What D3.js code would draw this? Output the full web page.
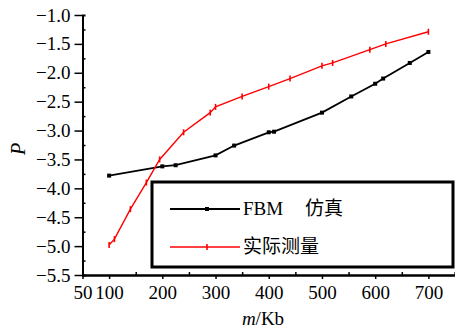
<!DOCTYPE html>
<html><head><meta charset="utf-8">
<script src="https://cdn.jsdelivr.net/npm/d3@7"></script>
<style>body{margin:0;background:#fff}</style>
</head><body>
<svg id="c" width="455" height="329"></svg>
<script>
const xFBM = [100, 200, 225, 300, 335, 400, 410, 500, 555, 600, 615, 665, 700];
const yFBM = [-3.78, -3.62, -3.60, -3.43, -3.26, -3.03, -3.02, -2.69, -2.41, -2.19, -2.10, -1.83, -1.64];
const xReal = [100, 110, 140, 170, 195, 240, 290, 300, 350, 400, 440, 500, 520, 590, 620, 700];
const yReal = [-4.98, -4.88, -4.36, -3.90, -3.50, -3.03, -2.69, -2.59, -2.41, -2.24, -2.10, -1.88, -1.83, -1.60, -1.50, -1.29];
const xTicks = [50, 100, 200, 300, 400, 500, 600, 700];
const xMinor = [150, 250, 350, 450, 550, 650, 750];
const yTicks = [-5.5, -5.0, -4.5, -4.0, -3.5, -3.0, -2.5, -2.0, -1.5, -1.0];
const yMinor = [-5.25, -4.75, -4.25, -3.75, -3.25, -2.75, -2.25, -1.75, -1.25];
const legendNames = [["FBM", "\u4eff\u771f"], ["\u5b9e\u9645\u6d4b\u91cf"]];
const colors = ["#000", "#ff0000"];

const svg = d3.select("#c");
const x = d3.scaleLinear().domain([50, 750]).range([82.5, 455]);
const y = d3.scaleLinear().domain([-5.5, -1.0]).range([275, 15]);
const font = "'Liberation Serif', 'Times New Roman', serif";

// axes
const gx = svg.append("g").attr("transform", "translate(0,275)");
gx.call(d3.axisBottom(x).tickValues(xTicks).tickSize(4).tickSizeOuter(0).tickFormat(d3.format("d")));
gx.append("g").call(d3.axisBottom(x).tickValues(xMinor).tickSize(-3).tickFormat(""));
const gy = svg.append("g").attr("transform", "translate(82.5,0)");
gy.call(d3.axisLeft(y).tickValues(yTicks).tickSize(8).tickSizeOuter(0).tickFormat(d3.format(".1f")));
gy.append("g").call(d3.axisLeft(y).tickValues(yMinor).tickSize(-3).tickFormat(""));
svg.selectAll(".domain").attr("stroke", "#000").attr("stroke-width", 2);
svg.selectAll(".tick line").attr("stroke", "#000").attr("stroke-width", 1.5);
svg.selectAll(".tick text").attr("font-family", font).attr("font-size", 19).attr("fill", "#000");
gx.selectAll(".tick text").attr("dy", "0.9em");
gy.selectAll(".tick text").attr("dx", "-1px");

// lines
const line = d3.line().x(d => x(d[0])).y(d => y(d[1]));
const fbm = xFBM.map((v, i) => [v, yFBM[i]]);
const real = xReal.map((v, i) => [v, yReal[i]]);
svg.append("path").datum(fbm).attr("d", line).attr("fill", "none").attr("stroke", colors[0]).attr("stroke-width", 1.8);
svg.append("path").datum(real).attr("d", line).attr("fill", "none").attr("stroke", colors[1]).attr("stroke-width", 1.4);
svg.selectAll(".mk1").data(fbm).enter().append("rect")
  .attr("x", d => x(d[0]) - 2).attr("y", d => y(d[1]) - 2).attr("width", 4).attr("height", 4).attr("fill", colors[0]);
svg.selectAll(".mk2").data(real).enter().append("line")
  .attr("x1", d => x(d[0])).attr("x2", d => x(d[0]))
  .attr("y1", d => y(d[1]) - 3).attr("y2", d => y(d[1]) + 3)
  .attr("stroke", colors[1]).attr("stroke-width", 1.6);

// legend
const lg = svg.append("g");
lg.append("rect").attr("x", 152).attr("y", 182).attr("width", 301).attr("height", 85)
  .attr("fill", "#fff").attr("stroke", "#000").attr("stroke-width", 3);
[209, 247].forEach((ly, i) => {
  lg.append("line").attr("x1", 170).attr("x2", 240).attr("y1", ly).attr("y2", ly)
    .attr("stroke", colors[i]).attr("stroke-width", i ? 1.4 : 1.8);
  if (i === 0) lg.append("rect").attr("x", 205).attr("y", ly - 2).attr("width", 4).attr("height", 4).attr("fill", colors[0]);
  else lg.append("line").attr("x1", 207).attr("x2", 207).attr("y1", ly - 3).attr("y2", ly + 3).attr("stroke", colors[1]).attr("stroke-width", 1.6);
  legendNames[i].forEach((t, j) => {
    lg.append("text").attr("x", j ? 305 : 243).attr("y", ly + 6).attr("font-family", font + ", 'Noto Sans CJK SC'")
      .attr("font-size", 19).attr("fill", "#000").text(t);
  });
});

// axis titles
svg.append("text").attr("transform", "translate(25,149) rotate(-90)").attr("text-anchor", "middle")
  .attr("font-family", font).attr("font-style", "italic").attr("font-size", 20).text("P");
const xt = svg.append("text").attr("x", 263).attr("y", 325).attr("text-anchor", "middle")
  .attr("font-family", font).attr("font-size", 19);
xt.append("tspan").attr("font-style", "italic").text("m");
xt.append("tspan").text("/Kb");
</script>
</body></html>
